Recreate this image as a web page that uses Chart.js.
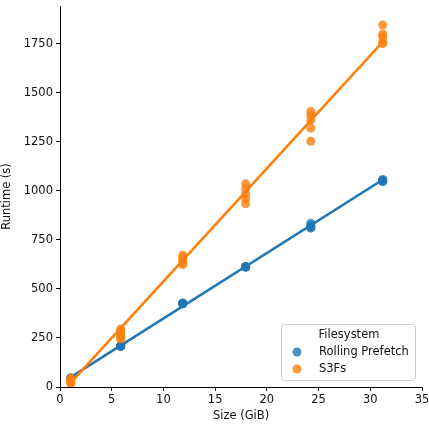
<!DOCTYPE html>
<html>
<head>
<meta charset="utf-8">
<script src="https://cdn.jsdelivr.net/npm/chart.js@4.4.1/dist/chart.umd.min.js"></script>
<style>
  html, body { margin: 0; padding: 0; background: #fff; }
  #wrap { width: 429px; height: 429px; }
</style>
</head>
<body>
<div id="wrap"><canvas id="c" width="429" height="429"></canvas></div>
<script>
// ---- data ----
const seriesNames = ["Rolling Prefetch", "S3Fs"];
const sizesGiB = [1.04, 5.87, 11.87, 17.95, 24.25, 31.2];
// five runs per size
const rollingRuns = [
  [44, 45, 46, 44, 45],
  [207, 209, 211, 210, 208],
  [424, 426, 428, 425, 427],
  [611, 614, 613, 612, 615],
  [810, 818, 825, 835, 815],
  [1048, 1052, 1055, 1058, 1050]
];
const s3fsRuns = [
  [45, 38, 30, 22, 18],
  [296, 285, 265, 255, 245],
  [672, 660, 648, 635, 624],
  [1036, 1011, 985, 960, 934],
  [1405, 1385, 1360, 1320, 1253],
  [1846, 1800, 1786, 1760, 1752]
];
// regression line end points
const fitX = [1.04, 31.2];
const rollingFit = [50, 1057];
const s3fsFit = [22, 1760];
const xTicks = [0, 5, 10, 15, 20, 25, 30, 35];
const yTicks = [0, 250, 500, 750, 1000, 1250, 1500, 1750];
const xLabel = "Size (GiB)";
const yLabel = "Runtime (s)";
const legendTitle = "Filesystem";

const blue = "#1f77b4", orange = "#ff7f0e";
const blueA = "rgba(31,119,180,0.8)", orangeA = "rgba(255,127,14,0.8)";

function pts(xs, runs) {
  const out = [];
  xs.forEach((x, i) => runs[i].forEach(v => out.push({x: x, y: v})));
  return out;
}
function line(xs, ys) { return xs.map((x, i) => ({x: x, y: ys[i]})); }

const FONT = "'DejaVu Sans', sans-serif";
const TXT = "#111";

const legendPlugin = {
  id: 'customLegend',
  afterDatasetsDraw(chart) {
    const ctx = chart.ctx;
    const x0 = 281, y0 = 324, w = 134, h = 56;
    ctx.save();
    ctx.fillStyle = "rgba(255,255,255,0.8)";
    ctx.strokeStyle = "#cccccc";
    ctx.lineWidth = 1;
    const r = 3;
    ctx.beginPath();
    ctx.moveTo(x0 + r + 0.5, y0 + 0.5);
    ctx.arcTo(x0 + w + 0.5, y0 + 0.5, x0 + w + 0.5, y0 + h + 0.5, r);
    ctx.arcTo(x0 + w + 0.5, y0 + h + 0.5, x0 + 0.5, y0 + h + 0.5, r);
    ctx.arcTo(x0 + 0.5, y0 + h + 0.5, x0 + 0.5, y0 + 0.5, r);
    ctx.arcTo(x0 + 0.5, y0 + 0.5, x0 + w + 0.5, y0 + 0.5, r);
    ctx.closePath();
    ctx.fill();
    ctx.stroke();
    ctx.font = "11.5px " + FONT;
    ctx.fillStyle = TXT;
    ctx.textBaseline = "middle";
    ctx.textAlign = "center";
    ctx.fillText(legendTitle, 349, 335);
    ctx.textAlign = "left";
    const cols = [blueA, orangeA];
    const ys = [352, 369];
    seriesNames.forEach((n, i) => {
      ctx.fillStyle = cols[i];
      ctx.beginPath();
      ctx.arc(297, ys[i], 4.5, 0, Math.PI * 2);
      ctx.fill();
      ctx.fillStyle = TXT;
      ctx.fillText(n, 319, ys[i]);
    });
    ctx.restore();
  }
};

new Chart(document.getElementById('c'), {
  type: 'scatter',
  data: {
    datasets: [
      { label: seriesNames[0], data: pts(sizesGiB, rollingRuns), backgroundColor: blueA,
        borderWidth: 0, pointRadius: 4.5, order: 4 },
      { label: seriesNames[0] + " fit", data: line(fitX, rollingFit), showLine: true,
        borderColor: blue, borderWidth: 2.6, pointRadius: 0, order: 3 },
      { label: seriesNames[1], data: pts(sizesGiB, s3fsRuns), backgroundColor: orangeA,
        borderWidth: 0, pointRadius: 4.5, order: 2 },
      { label: seriesNames[1] + " fit", data: line(fitX, s3fsFit), showLine: true,
        borderColor: orange, borderWidth: 2.6, pointRadius: 0, order: 1 }
    ]
  },
  options: {
    responsive: false,
    animation: false,
    layout: { padding: { top: 6, right: 7, left: 0, bottom: 0 } },
    plugins: { legend: { display: false }, tooltip: { enabled: false } },
    scales: {
      x: {
        type: 'linear', min: 0, max: 35,
        afterBuildTicks: s => { s.ticks = xTicks.map(v => ({value: v})); },
        afterFit: s => { s.height = 42; s.paddingLeft = 0; s.paddingRight = 0; },
        grid: { display: true, drawOnChartArea: false, drawTicks: true, tickLength: 4, color: "#000", tickWidth: 1 },
        border: { display: true, color: "#000", width: 1 },
        ticks: { color: TXT, font: { family: FONT, size: 11.5 }, padding: 2, maxRotation: 0,
                 callback: v => String(v) },
        title: { display: true, text: xLabel, color: TXT, font: { family: FONT, size: 11.5 }, padding: { top: 0, bottom: 6 } }
      },
      y: {
        type: 'linear', min: 0, max: 1943,
        afterBuildTicks: s => { s.ticks = yTicks.map(v => ({value: v})); },
        afterFit: s => { s.width = 60; s.paddingTop = 0; s.paddingBottom = 0; },
        grid: { display: true, drawOnChartArea: false, drawTicks: true, tickLength: 4, color: "#000", tickWidth: 1 },
        border: { display: true, color: "#000", width: 1 },
        ticks: { color: TXT, font: { family: FONT, size: 11.5 }, padding: 3,
                 callback: v => String(v) },
        title: { display: true, text: yLabel, color: TXT, font: { family: FONT, size: 11.5 }, padding: { top: 0, bottom: 0 } }
      }
    }
  },
  plugins: [legendPlugin]
});
</script>
</body>
</html>
